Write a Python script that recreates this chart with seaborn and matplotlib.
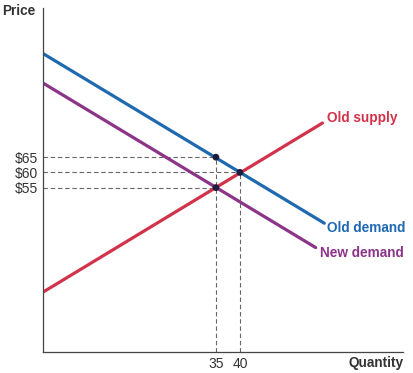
import pandas as pd
import matplotlib.pyplot as plt
import seaborn as sns

sns.set_style("white")
plt.rcParams['font.family'] = ['Liberation Sans', 'DejaVu Sans']

# line end points (quantity, price)
supply_q = [-1, 57.2]
supply_p = [20.7, 76.2]
old_demand_q = [-1, 57.6]
old_demand_p = [99, 43.3]
new_demand_q = [-1, 55.8]
new_demand_p = [89.3, 35.3]

# marked points
dot_q = [35, 40, 35]
dot_p = [65, 60, 55]

price_ticks = [55, 60, 65]
price_labels = ['$55', '$60', '$65']
qty_ticks = [35, 40]

colors = {'Old supply': '#d2334b', 'Old demand': '#1f69b0', 'New demand': '#8b3488'}

df = pd.concat([
    pd.DataFrame({'q': supply_q, 'p': supply_p, 'curve': 'Old supply'}),
    pd.DataFrame({'q': old_demand_q, 'p': old_demand_p, 'curve': 'Old demand'}),
    pd.DataFrame({'q': new_demand_q, 'p': new_demand_p, 'curve': 'New demand'}),
])

fig = plt.figure(figsize=(4.14, 3.73), dpi=100)
ax = fig.add_axes([0.1039, 0.0563, 0.8695, 0.9223])
ax.set_xlim(-1.04, 74)
ax.set_ylim(1, 114)

# dashed guides
dash = dict(color='#666666', lw=0.8, ls=(0, (4, 2.5)), zorder=1)
for q, p in zip(dot_q, dot_p):
    ax.plot([-1.04, q], [p, p], **dash)
ax.plot([35, 35], [1, 65], **dash)
ax.plot([40, 40], [1, 60], **dash)

sns.lineplot(data=df, x='q', y='p', hue='curve', palette=colors, lw=2.3,
             legend=False, ax=ax, zorder=2)
sns.scatterplot(x=dot_q, y=dot_p, color='#1c1c3c', s=24, edgecolor='none', ax=ax, zorder=3)

ax.text(supply_q[1] + 1, supply_p[1] + 1.5, 'Old supply', color=colors['Old supply'],
        fontsize=9.8, fontweight='bold', va='center', ha='left')
ax.text(old_demand_q[1] + 0.6, old_demand_p[1] - 1.6, 'Old demand', color=colors['Old demand'],
        fontsize=9.8, fontweight='bold', va='center', ha='left')
ax.text(new_demand_q[1] + 1, new_demand_p[1] - 1.7, 'New demand', color=colors['New demand'],
        fontsize=9.8, fontweight='bold', va='center', ha='left')

ax.set_yticks(price_ticks)
ax.set_yticklabels(price_labels)
ax.set_xticks(qty_ticks)
ax.tick_params(axis='both', length=0, labelsize=10, labelcolor='#333333', pad=3.5)
ax.set_xlabel('')
ax.set_ylabel('')
sns.despine(ax=ax)
for s in ['left', 'bottom']:
    ax.spines[s].set_color('#444444')
    ax.spines[s].set_linewidth(0.9)

fig.text(2 / 414, 1 - 11 / 373, 'Price', fontsize=9.8, fontweight='bold', color='#333333',
         va='center', ha='left')
fig.text(404 / 414, 1 - 363 / 373, 'Quantity', fontsize=9.8, fontweight='bold', color='#333333',
         va='center', ha='right')

plt.savefig('out.png', dpi=100)
